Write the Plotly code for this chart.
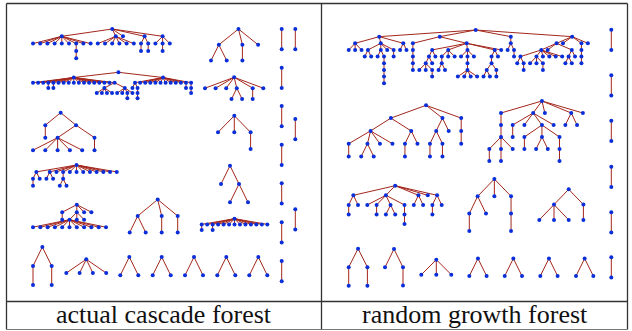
import plotly.graph_objects as go

# ---------------- data: tree structures (nested child lists, [] = leaf) ----------------
# actual cascade forest
cascade_t1 = [[[], [], [], [], [], [], [[[]]], [], []], [[], [], [], [], [], []], [], [[[]], [[]]], [[], [[]], []]]
cascade_t2 = [[[], []], [[]], []]
cascade_t3 = [[], [], [], [[], []], [[]], []]
cascade_t4 = [[[], [], [], [[]], [[]], [], [], [], [], [], [], [], [], [], [], [],
               [[[], [], [], []], [[], [], [[]], []]]],
              [[[], [[[]]]], [], [], [], [], [], [], [], [], [], [[]], [[[]]]]]
cascade_t5 = [[[]], [[[], [], [], [], []], [[]]]]
cascade_t6 = [[[[]], []], [[], []], [], [[[], []]], [], [], [], [], [], [], [], []]
cascade_t7 = [[[]], [[[], [], [], [], [], [], [], [], [], [], []], [], []], [], []]
cascade_t8 = [[[], []], [[]], [[]]]
cascade_t9 = [[[]], [], [[]], [], [], [], [], [], [], [], [], [], []]
cascade_t10 = [[], [], [[]]]
cascade_t11 = [[], [[], []]]
cascade_t12 = [[[]], [[]]]
cascade_t13 = [[], [], [], []]
cascade_wedge = [[], []]
cascade_pair = [[]]

# random growth forest
growth_r1 = [
    [[[], [], []], [[[], []], [[], [[[[[]]]]]], [], [[]]], [[], []]],
    [[[[[[]]]]],
     [[[[[], [], [[]]], []], []],
      [[[[], []]], [], []],
      [[], [[[[], [], [], []]]], []],
      [[[[[], []], [[]]]], []],
      []]],
    [[[], [[]]]],
    [[[[[], [[]]], [[], [], [[]]], [], [], [], []], [], [[[], []], []]], [], [[[[]]]], []],
]
growth_r2 = [[[[[]], [[], []], [], []], [[[]], []]], [[[[]], [[]]], []], [[[]]]]
growth_r3 = [[[[[[]], [[]], []]]], [[[]], [], [[[]], [[], []], [[[]]]], []], [], [[], []], []]
growth_r4 = [[[[]], []], [[], [[]], [[], []], [[[]]]], [[], []], [], [[[]], []]]
growth_r5 = [[[[]], []], [], [[[]]]]
growth_r6 = [[[], [], []], [[]]]
growth_r7 = [[[]], [[]]]
growth_r8 = [[], [[]]]
growth_r9 = [[], [], []]
growth_wedge = [[], []]
growth_pair = [[]]

captions = ["actual cascade forest", "random growth forest"]

# ---------------- placement (x of leftmost node, y of root, slot width, level height) ----------------
placements = [
    (cascade_t1, 33, 29, 7.2, 7.3),
    (cascade_t2, 211, 29, 15.7, 15.8),
    (cascade_t3, 205, 77.3, 10.6, 10.9),
    (cascade_t4, 33, 72.3, 5.1, 5.2),
    (cascade_t5, 33, 112.7, 12.3, 12.5),
    (cascade_t10, 218, 115.7, 16.3, 16.6),
    (cascade_t6, 33, 165, 6.7, 6.9),
    (cascade_t11, 221, 165.7, 18, 18.3),
    (cascade_t7, 33, 204.7, 7.3, 7.5),
    (cascade_t8, 129.7, 199.5, 16, 16.5),
    (cascade_t9, 201.7, 218.7, 5.47, 5.7),
    (cascade_t12, 33, 247, 18.7, 19),
    (cascade_t13, 66.3, 259.3, 13.3, 13.7),
    (cascade_wedge, 120.3, 257, 18, 18.3),
    (cascade_wedge, 152.7, 257, 18, 18.3),
    (cascade_wedge, 185, 257, 18, 18.3),
    (cascade_wedge, 217.3, 257, 18, 18.3),
    (cascade_wedge, 249.3, 257, 18, 18.3),
    (growth_r1, 348.7, 30, 6.42, 6.65),
    (growth_r2, 348.7, 105.3, 12.5, 12.8),
    (growth_r3, 489.3, 101, 11.7, 12),
    (growth_r4, 348.7, 185.7, 9.3, 9.6),
    (growth_r5, 469.3, 179, 16.7, 17.3),
    (growth_r6, 539.3, 189.3, 14.7, 15.3),
    (growth_r7, 348.7, 248.7, 18.7, 18.5),
    (growth_r8, 385, 249, 18, 18.3),
    (growth_r9, 421.3, 259.7, 15, 15),
    (growth_wedge, 469.3, 258.5, 17.3, 17.5),
    (growth_wedge, 504.7, 258.5, 17.3, 17.5),
    (growth_wedge, 540.3, 258.5, 17.3, 17.5),
    (growth_wedge, 576, 258.5, 17.3, 17.5),
]
for y in [29, 67.7, 106, 144.7, 183.3, 222.3, 261]:
    placements.append((cascade_pair, 281.7, y, 1, 20.3))
for y in [29, 119, 209.3]:
    placements.append((cascade_pair, 295.3, y, 1, 20.3))
for y in [29.7, 75.3, 120.7, 166.7, 212.3, 257.3]:
    placements.append((growth_pair, 611.3, y, 1, 20.2))


def tidy(node):
    """Contour-based tidy tree layout. Returns rel x, depth, edges, contour."""
    if not node:
        return [0.0], [0], [], [(0.0, 0.0)]
    subs = [tidy(c) for c in node]
    offs, acc = [], []
    for xs, ds, es, cont in subs:
        if not acc:
            off = 0.0
        else:
            off = max(acc[d][1] + 1 - cont[d][0] for d in range(min(len(acc), len(cont))))
        offs.append(off)
        for d, (lo, hi) in enumerate(cont):
            if d < len(acc):
                acc[d] = (min(acc[d][0], lo + off), max(acc[d][1], hi + off))
            else:
                acc.append((lo + off, hi + off))
    c = (offs[0] + offs[-1]) / 2
    X, D, E = [0.0], [0], []
    for (xs, ds, es, cont), off in zip(subs, offs):
        base = len(X)
        X += [x + off - c for x in xs]
        D += [d + 1 for d in ds]
        E.append((0, base))
        E += [(a + base, b + base) for a, b in es]
    return X, D, E, [(0.0, 0.0)] + [(lo - c, hi - c) for lo, hi in acc]


ex, ey, nx, ny = [], [], [], []
for tree, x0, y0, dx, dy in placements:
    X, D, E, _ = tidy(tree)
    m = min(X)
    px = [x0 + (x - m) * dx for x in X]
    py = [y0 + d * dy for d in D]
    for a, b in E:
        ex += [px[a], px[b], None]
        ey += [py[a], py[b], None]
    nx += px
    ny += py

fig = go.Figure()
fig.add_trace(go.Scatter(x=ex, y=ey, mode="lines", line=dict(color="#a3271c", width=1),
                         hoverinfo="skip", showlegend=False))
fig.add_trace(go.Scatter(x=nx, y=ny, mode="markers",
                         marker=dict(color="#0a2ed8", size=4, line=dict(width=0)),
                         hoverinfo="skip", showlegend=False))

L, R, T, B = 6.5, 627.5, 3.5, 329.5
MID, CAP = 321.5, 301.5
shapes = [
    dict(type="line", x0=L, x1=R, y0=T, y1=T, line=dict(color="#333", width=1.6)),
    dict(type="line", x0=L, x1=L, y0=T, y1=B, line=dict(color="#333", width=1.3)),
    dict(type="line", x0=R, x1=R, y0=T, y1=B, line=dict(color="#333", width=1.3)),
    dict(type="line", x0=MID, x1=MID, y0=T, y1=B, line=dict(color="#333", width=1.3)),
    dict(type="line", x0=L, x1=R, y0=CAP, y1=CAP, line=dict(color="#333", width=1.6)),
    dict(type="line", x0=L, x1=R, y0=B, y1=B, line=dict(color="#777", width=1)),
]
for s in shapes:
    s.update(xref="x", yref="y", layer="below")

annotations = [
    dict(x=(L + MID) / 2, y=314.5, text=captions[0]),
    dict(x=(MID + R) / 2, y=314.5, text=captions[1]),
]
for a in annotations:
    a.update(xref="x", yref="y", showarrow=False, xanchor="center", yanchor="middle",
             font=dict(family="Liberation Serif", size=26, color="#111"))

fig.update_layout(
    width=632, height=331, margin=dict(l=0, r=0, t=0, b=0),
    paper_bgcolor="white", plot_bgcolor="white",
    xaxis=dict(range=[0, 632], visible=False, fixedrange=True),
    yaxis=dict(range=[331, 0], visible=False, fixedrange=True),
    shapes=shapes, annotations=annotations,
)
fig.write_html("out.html")
